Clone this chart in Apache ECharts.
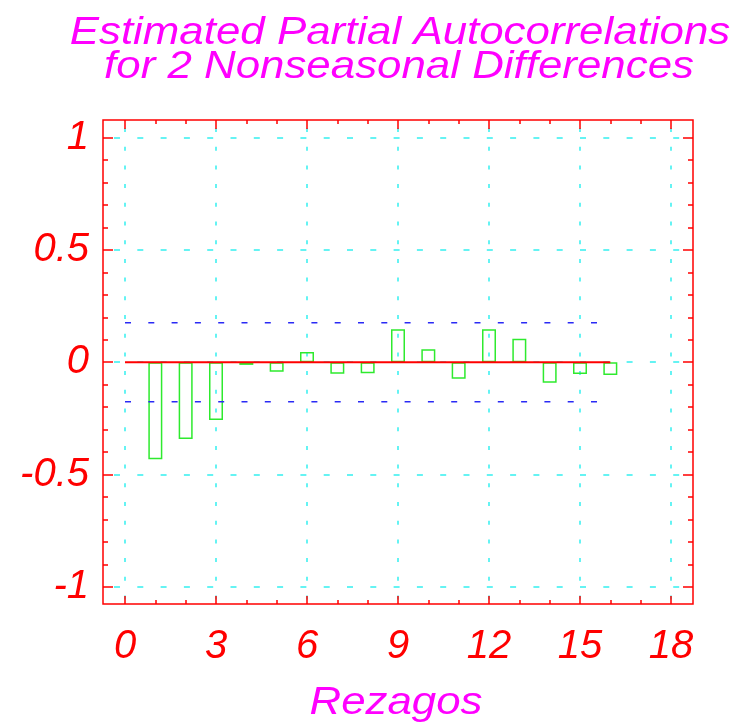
<!DOCTYPE html>
<html>
<head>
<meta charset="utf-8">
<title>Estimated Partial Autocorrelations</title>
<script src="https://cdn.jsdelivr.net/npm/echarts@6/dist/echarts.min.js"></script>
<style>
  html, body { margin: 0; padding: 0; background: #fff; }
  #chart { width: 735px; height: 723px; }
</style>
</head>
<body>
<div id="chart"></div>
<script>
// values
const lags = [1, 2, 3, 4, 5, 6, 7, 8, 9, 10, 11, 12, 13, 14, 15, 16]
const pacf = [-0.432, -0.342, -0.258, -0.012, -0.043, 0.045, -0.052, -0.049,
  0.147, 0.058, -0.074, 0.147, 0.105, -0.091, -0.053, -0.057]
const limits = [0.176, -0.176]
const titleLines = ['Estimated Partial Autocorrelations', 'for 2 Nonseasonal Differences']
const xName = 'Rezagos'

const RED = '#ff0000'
const CYAN = '#33f0f0'
const GREEN = '#2eea2e'
const BLUE = '#2a2af5'
const MAGENTA = '#ff00ff'
const FONT = 'Liberation Sans'
// the original lettering is a bit wider than Liberation Sans
const STRETCH = 1.154

const lastLag = lags[lags.length - 1]

function tickAxis(extra) {
  return Object.assign({
    type: 'value',
    gridIndex: 3,
    axisLine: { show: false, onZero: false },
    splitLine: { show: false },
    minorSplitLine: { show: false }
  }, extra)
}

const ticks = (len) => ({ show: true, inside: true, length: len, lineStyle: { color: RED, width: 1.5 } })
const minor = (n, len) => ({ show: true, splitNumber: n, length: len, lineStyle: { color: RED, width: 1.5 } })
const hidden = (gi) => ({ type: 'value', gridIndex: gi, show: false, min: 0, max: 1 })

function label(text, x, y, size) {
  return {
    type: 'text',
    x: x,
    y: y,
    scaleX: STRETCH,
    style: {
      text: text,
      fill: MAGENTA,
      font: 'italic ' + size + 'px "' + FONT + '"',
      align: 'center',
      verticalAlign: 'middle'
    }
  }
}

const chart = echarts.init(document.getElementById('chart'))

chart.setOption({
  animation: false,
  backgroundColor: '#fff',
  graphic: [
    label(titleLines[0], 400, 33, 38),
    label(titleLines[1], 399, 67.5, 38),
    label(xName, 396, 703, 38)
  ],
  grid: [
    // frame
    { left: 103, top: 120, width: 590, height: 484, show: true, borderColor: RED, borderWidth: 1.5, backgroundColor: 'transparent' },
    // vertical grid lines
    { left: 125, top: 120, width: 546, height: 484 },
    // horizontal grid lines
    { left: 103, top: 137.7, width: 590, height: 449 },
    // data
    { left: 125, top: 137.7, width: 546, height: 449 }
  ],
  xAxis: [
    hidden(0),
    {
      type: 'value', gridIndex: 1, min: 0, max: 18, interval: 3,
      axisLine: { show: false }, axisTick: { show: false }, axisLabel: { show: false },
      splitLine: { show: true, lineStyle: { color: CYAN, width: 1.5, type: [4, 14.7], dashOffset: 10.7 } }
    },
    hidden(2),
    tickAxis({
      position: 'bottom', min: 0, max: 18, interval: 3, offset: 17.3,
      axisTick: ticks(8),
      minorTick: minor(3, 4),
      axisLabel: {
        color: RED, fontFamily: FONT, fontStyle: 'italic', fontSize: 40,
        verticalAlign: 'middle', lineHeight: 40, margin: 43
      }
    }),
    tickAxis({
      position: 'top', min: 0, max: 18, interval: 3, offset: 17.7,
      axisTick: ticks(9),
      minorTick: minor(3, 4),
      axisLabel: { show: false }
    })
  ],
  yAxis: [
    hidden(0),
    hidden(1),
    {
      type: 'value', gridIndex: 2, min: -1, max: 1, interval: 0.5,
      axisLine: { show: false }, axisTick: { show: false }, axisLabel: { show: false },
      splitLine: { show: true, lineStyle: { color: CYAN, width: 1.5, type: [6, 17.3], dashOffset: 12.3 } }
    },
    tickAxis({
      position: 'left', min: -1, max: 1, interval: 0.5, offset: 22,
      axisTick: ticks(10),
      minorTick: minor(5, 5),
      axisLabel: {
        color: RED, fontFamily: FONT, fontStyle: 'italic', fontSize: 40, margin: 14
      }
    }),
    tickAxis({
      position: 'right', min: -1, max: 1, interval: 0.5, offset: 22,
      axisTick: ticks(10),
      minorTick: minor(5, 5),
      axisLabel: { show: false }
    })
  ],
  series: [
    {
      type: 'bar',
      xAxisIndex: 3,
      yAxisIndex: 3,
      barWidth: 14,
      data: lags.map((l, i) => [l, pacf[i]]),
      itemStyle: { color: 'rgba(0,0,0,0)', borderColor: GREEN, borderWidth: 1.5 },
      z: 3
    },
    ...limits.map(v => ({
      type: 'line',
      xAxisIndex: 3,
      yAxisIndex: 3,
      symbol: 'none',
      data: [[0, v], [lastLag, v]],
      lineStyle: { color: BLUE, width: 1.5, type: [6, 17.3] },
      z: 4
    })),
    {
      type: 'line',
      xAxisIndex: 3,
      yAxisIndex: 3,
      symbol: 'none',
      data: [[0, 0], [lastLag, 0]],
      lineStyle: { color: RED, width: 2 },
      z: 5
    }
  ]
})
</script>
</body>
</html>
